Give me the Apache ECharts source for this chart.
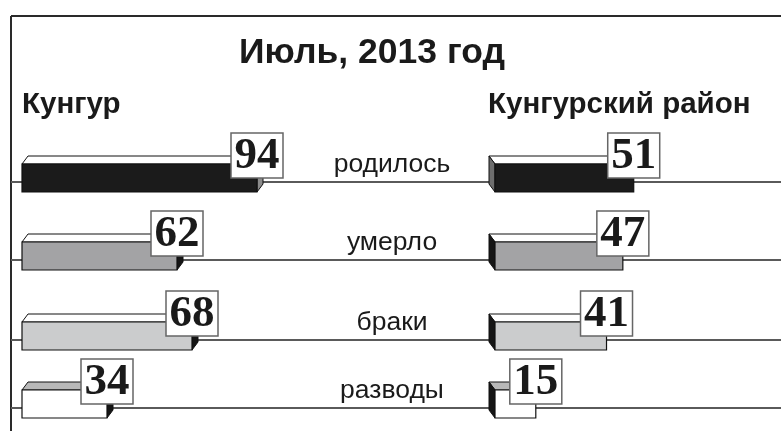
<!DOCTYPE html>
<html>
<head>
<meta charset="utf-8">
<script src="https://cdn.jsdelivr.net/npm/echarts@6/dist/echarts.min.js"></script>
<style>
  html, body { margin: 0; padding: 0; background: #fff; }
  #chart { width: 781px; height: 431px; }
</style>
</head>
<body>
<div id="chart"></div>
<script>
const categories = ['родилось', 'умерло', 'браки', 'разводы'];
const kungur = [94, 62, 68, 34];
const district = [51, 47, 41, 15];
const titleText = 'Июль, 2013 год';
const leftName = 'Кунгур';
const rightName = 'Кунгурский район';

const frontColors = ['#1b1b1b', '#a3a3a5', '#cbcccd', '#ffffff'];
const topColors = ['#ffffff', '#ffffff', '#ffffff', '#b8b8b8'];
const sideLeft = ['#8c8c8c', '#151515', '#151515', '#151515'];
const sideRight = ['#6e6e6e', '#151515', '#151515', '#151515'];

// layout of the rows (front face top, px)
const rowTop = [164, 242, 322, 390];
const rowH = 28;

function barRenderer(side, row) {
    return function (params, api) {
        const v = api.value(0);
        const p0 = api.coord([0, 0]);
        const p1 = api.coord([v, 0]);
        const h = api.size([0, 1])[1];
        const x0 = p0[0], x1 = p1[0];
        const yT = p0[1] - h / 2, yB = p0[1] + h / 2;
        const dx = side === 'left' ? 6 : -6, dy = -8;
        const stroke = '#111';
        const sx = side === 'left' ? x1 : x0;
        return {
            type: 'group',
            children: [
                {
                    type: 'polygon',
                    shape: { points: [[x0, yT], [x0 + dx, yT + dy], [x1 + dx, yT + dy], [x1, yT]] },
                    style: { fill: topColors[row], stroke: stroke, lineWidth: 1 }
                },
                {
                    type: 'polygon',
                    shape: { points: [[sx, yT], [sx + dx, yT + dy], [sx + dx, yB + dy], [sx, yB]] },
                    style: { fill: side === 'left' ? sideLeft[row] : sideRight[row], stroke: stroke, lineWidth: 1 }
                },
                {
                    type: 'rect',
                    shape: { x: x0, y: yT, width: x1 - x0, height: h },
                    style: { fill: frontColors[row], stroke: stroke, lineWidth: 1.2 }
                },
                {
                    type: 'rect',
                    shape: { x: x1 - 26, y: yT - 31, width: 52, height: 45 },
                    style: { fill: '#fff', stroke: '#666', lineWidth: 1.5 }
                },
                {
                    type: 'text',
                    style: {
                        text: String(v), x: x1, y: yT - 8,
                        align: 'center', verticalAlign: 'middle',
                        font: 'bold 45px "Liberation Serif"', fill: '#1a1a1a'
                    }
                }
            ]
        };
    };
}

const grids = [], xAxes = [], yAxes = [], series = [];
categories.forEach(function (cat, i) {
    [['left', kungur, 22, 375, 150], ['right', district, 495, 272, 100]].forEach(function (s) {
        const idx = grids.length;
        grids.push({ left: s[2], top: rowTop[i], width: s[3], height: rowH });
        xAxes.push({
            gridIndex: idx, type: 'value', min: 0, max: s[4], show: false
        });
        yAxes.push({
            gridIndex: idx, type: 'category', data: [cat],
            axisLine: { show: false }, axisTick: { show: false }, splitLine: { show: false },
            axisLabel: {
                show: s[0] === 'right', margin: 103, align: 'center', verticalAlign: 'bottom',
                fontSize: 26.5, fontFamily: 'Liberation Sans', color: '#1a1a1a'
            }
        });
        series.push({
            type: 'custom', xAxisIndex: idx, yAxisIndex: idx, z: 5,
            renderItem: barRenderer(s[0], i),
            encode: { x: 0, y: 1 },
            data: [[s[1][i], 0]]
        });
    });
});

const graphic = [
    { type: 'line', shape: { x1: 11, y1: 16, x2: 781, y2: 16 }, style: { stroke: '#2a2a2a', lineWidth: 2 } },
    { type: 'line', shape: { x1: 11, y1: 16, x2: 11, y2: 431 }, style: { stroke: '#2a2a2a', lineWidth: 2 } }
];
rowTop.forEach(function (t) {
    graphic.push({
        type: 'line', z: 0,
        shape: { x1: 11, y1: t + 18, x2: 781, y2: t + 18 },
        style: { stroke: '#5a5a5a', lineWidth: 2 }
    });
});

const chart = echarts.init(document.getElementById('chart'));
chart.setOption({
    animation: false,
    backgroundColor: '#fff',
    title: [
        { text: titleText, left: 239, top: 35, padding: 0,
          textStyle: { fontSize: 35.5, fontWeight: 'bold', fontFamily: 'Liberation Sans', color: '#1a1a1a' } },
        { text: leftName, left: 22, top: 90, padding: 0,
          textStyle: { fontSize: 29.5, fontWeight: 'bold', fontFamily: 'Liberation Sans', color: '#1a1a1a' } },
        { text: rightName, left: 488, top: 90, padding: 0,
          textStyle: { fontSize: 29.5, fontWeight: 'bold', fontFamily: 'Liberation Sans', color: '#1a1a1a' } }
    ],
    graphic: graphic,
    grid: grids,
    xAxis: xAxes,
    yAxis: yAxes,
    series: series
});
</script>
</body>
</html>
